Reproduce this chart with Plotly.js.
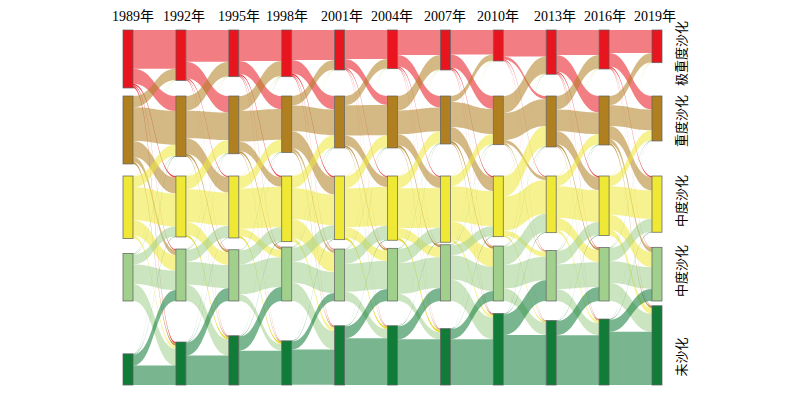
<!DOCTYPE html>
<html>
<head>
<meta charset="utf-8">
<script src="https://cdn.plot.ly/plotly-3.0.1.min.js"></script>
<style>
html,body{margin:0;padding:0;background:#ffffff;}
#chart{width:800px;height:395px;}
</style>
</head>
<body>
<div id="chart"></div>
<script>
// ---------------- data ----------------
const years = ['1989年','1992年','1995年','1998年','2001年','2004年','2007年','2010年','2013年','2016年','2019年'];
const categories = ['极重度沙化','重度沙化','中度沙化','中度沙化','未沙化'];

// transition matrices (relative area): rows = class in earlier year, columns = class in later year
// class order: 极重度, 重度, 中度, 轻度(labelled 中度), 未沙化
const flow_1989_1992 = [
  [38.7, 15.0,  1.5,  1.0,  1.8],
  [11.3, 33.7, 16.0,  5.0,  2.0],
  [ 0.3, 11.0, 33.0, 15.5,  2.7],
  [ 0.2,  0.7, 10.0, 19.5, 17.1],
  [ 0.0,  0.3,  0.5, 11.0, 19.4]
];
const flow_1992_1995 = [
  [31.7, 16.5,  1.0,  0.6,  0.7],
  [14.7, 27.5, 15.5,  2.0,  1.0],
  [ 0.2, 13.0, 33.2, 12.6,  2.0],
  [ 0.1,  0.5, 12.0, 23.1, 16.3],
  [ 0.0,  0.3,  0.3, 13.0, 29.3]
];
const flow_1995_1998 = [
  [31.0, 13.0,  1.3,  0.8,  0.6],
  [15.0, 30.7,  9.5,  1.8,  0.8],
  [ 0.4, 12.0, 40.4,  7.5,  1.7],
  [ 0.2,  0.5, 14.0, 29.9,  6.7],
  [ 0.1,  0.3,  0.5, 14.0, 34.4]
];
const flow_1998_2001 = [
  [30.0, 13.5,  1.5,  0.9,  0.8],
  [ 9.5, 25.8, 17.0,  3.0,  1.2],
  [ 0.3, 12.0, 30.7, 19.1,  3.6],
  [ 0.2,  0.5, 14.0, 21.0, 18.3],
  [ 0.0,  0.2,  0.5,  8.0, 35.3]
];
const flow_2001_2004 = [
  [29.0,  9.0,  1.0,  0.5,  0.5],
  [ 9.2, 30.3, 10.0,  1.7,  0.8],
  [ 0.3, 12.0, 38.9, 10.5,  2.0],
  [ 0.2,  0.5, 14.0, 28.0,  9.3],
  [ 0.0,  0.2,  0.4, 12.0, 46.7]
];
const flow_2004_2007 = [
  [25.0, 11.5,  1.0,  0.6,  0.6],
  [14.5, 23.9, 11.0,  1.8,  0.8],
  [ 0.3, 12.0, 39.9, 10.0,  2.1],
  [ 0.2,  0.4, 14.0, 30.9,  7.2],
  [ 0.0,  0.2,  0.4, 13.0, 45.7]
];
const flow_2007_2010 = [
  [24.5, 13.0,  1.2,  0.7,  0.6],
  [ 6.0, 25.1, 14.0,  2.0,  0.9],
  [ 0.3, 10.0, 35.1, 18.0,  2.9],
  [ 0.2,  0.4, 10.0, 24.3, 21.4],
  [ 0.0,  0.2,  0.4, 10.0, 45.8]
];
const flow_2010_2013 = [
  [26.5,  3.0,  0.7,  0.4,  0.4],
  [17.0, 27.0,  3.3,  0.9,  0.5],
  [ 0.4, 20.2, 34.1,  5.0,  1.0],
  [ 0.3,  0.5, 18.2, 23.4, 12.6],
  [ 0.1,  0.3,  0.4, 20.8, 50.0]
];
const flow_2013_2016 = [
  [25.0, 16.5,  1.3,  0.8,  0.7],
  [13.5, 21.9, 13.0,  1.8,  0.8],
  [ 0.3, 10.0, 31.8, 12.0,  2.6],
  [ 0.2,  0.4, 13.0, 24.9, 12.0],
  [ 0.0,  0.2,  0.4, 14.0, 49.9]
];
const flow_2016_2019 = [
  [23.0, 13.5,  1.2,  0.7,  0.6],
  [ 9.2, 20.9, 13.2,  4.0,  1.7],
  [ 0.3, 10.0, 28.4, 15.0,  5.8],
  [ 0.2,  0.4, 13.0, 22.0, 17.9],
  [ 0.0,  0.2,  0.5, 12.0, 53.3]
];
const transitions = [flow_1989_1992, flow_1992_1995, flow_1995_1998, flow_1998_2001, flow_2001_2004,
  flow_2004_2007, flow_2007_2010, flow_2010_2013, flow_2013_2016, flow_2016_2019];

// ---------------- styles / layout constants ----------------
const nodeColors = ['rgb(232,20,30)','rgb(176,128,32)','rgb(239,232,53)','rgb(160,208,140)','rgb(16,124,56)'];
const linkColors = ['rgba(232,20,30,0.55)','rgba(176,128,32,0.55)','rgba(239,232,53,0.55)','rgba(160,208,140,0.55)','rgba(16,124,56,0.56)'];
const thinLinkColors = ['rgba(232,20,30,0.8)','rgba(176,128,32,0.8)','rgba(225,215,30,0.9)','rgba(130,190,110,0.85)','rgba(16,124,56,0.75)'];
const THIN = 2.5;   // flows narrower than this are drawn as stronger hairlines, like the reference

const W = 800, H = 395;
const M = {l: 118, r: 133, t: 30, b: 10};
const PW = W - M.l - M.r, PH = H - M.t - M.b;
const PAD = 22, THICK = 10;
const colX0 = 10, colStep = 52.9;                 // node column centres, px inside the domain
// vertical anchoring of each class band inside the domain (px from top)
const anchors = [['top', 0], ['top', 66], ['top', 146], ['bottom', 271], ['bottom', 355]];
const yearLabelX = [133, 183.5, 238.5, 286.5, 341.5, 391.5, 445, 498, 555, 605, 655];
const yearLabelY = 16.5;
const classLabelX = 680;
const classLabelY = [54, 121, 201, 271, 357.5];

// ---------------- build sankey ----------------
const nT = years.length, nC = categories.length;
const rowSum = r => r.reduce((a, b) => a + b, 0);
const nodeValue = [];
const colTotals = [];
for (let t = 0; t < nT; t++) {
  let tot = 0;
  for (let c = 0; c < nC; c++) {
    let inflow = 0, outflow = 0;
    if (t > 0) for (let i = 0; i < nC; i++) inflow += transitions[t - 1][i][c];
    if (t < nT - 1) outflow = rowSum(transitions[t][c]);
    const v = Math.max(inflow, outflow);
    nodeValue.push(v);
    tot += v;
  }
  colTotals.push(tot);
}
const ky = (PH - (nC - 1) * PAD) / Math.max(...colTotals);

const nodeX = [], nodeY = [], nodeCol = [], nodeLab = [];
for (let t = 0; t < nT; t++) {
  for (let c = 0; c < nC; c++) {
    const h = nodeValue[t * nC + c] * ky;
    const a = anchors[c];
    const cy = a[0] === 'top' ? a[1] + h / 2 : a[1] - h / 2;
    nodeX.push((colX0 + colStep * t) / PW);
    nodeY.push(cy / PH);
    nodeCol.push(nodeColors[c]);
    nodeLab.push('');
  }
}

const src = [], tgt = [], val = [], lcol = [];
for (let t = 0; t < nT - 1; t++) {
  for (let i = 0; i < nC; i++) {
    for (let j = 0; j < nC; j++) {
      const v = transitions[t][i][j];
      if (v > 0) {
        src.push(t * nC + i);
        tgt.push((t + 1) * nC + j);
        val.push(v);
        lcol.push(v < THIN ? thinLinkColors[i] : linkColors[i]);
      }
    }
  }
}

const trace = {
  type: 'sankey',
  arrangement: 'fixed',
  orientation: 'h',
  domain: {x: [0, 1], y: [0, 1]},
  hoverinfo: 'none',
  textfont: {size: 1, color: 'rgba(0,0,0,0)'},
  node: {
    label: nodeLab,
    x: nodeX,
    y: nodeY,
    color: nodeCol,
    pad: PAD,
    thickness: THICK,
    line: {color: 'rgba(95,95,95,0.9)', width: 0.8},
    hoverinfo: 'none'
  },
  link: {
    source: src,
    target: tgt,
    value: val,
    color: lcol,
    line: {color: 'rgba(0,0,0,0)', width: 0.000001},
    hoverinfo: 'none'
  }
};

const pxX = px => (px - M.l) / PW;
const pxY = py => 1 - (py - M.t) / PH;

const annotations = [];
years.forEach((y, t) => {
  annotations.push({
    text: y, xref: 'paper', yref: 'paper',
    x: pxX(yearLabelX[t]), y: pxY(yearLabelY),
    xanchor: 'center', yanchor: 'middle', showarrow: false,
    font: {family: '"Liberation Serif", "Noto Sans CJK SC", serif', size: 14, color: '#000'}
  });
});
categories.forEach((c, k) => {
  annotations.push({
    text: c, xref: 'paper', yref: 'paper',
    x: pxX(classLabelX), y: pxY(classLabelY[k]),
    xanchor: 'center', yanchor: 'middle', showarrow: false, textangle: -90,
    font: {family: '"Noto Sans CJK SC", serif', size: 13, color: '#000'}
  });
});

const layout = {
  width: W, height: H,
  margin: M,
  paper_bgcolor: '#ffffff',
  plot_bgcolor: '#ffffff',
  showlegend: false,
  annotations: annotations
};

Plotly.newPlot('chart', [trace], layout, {displayModeBar: false, staticPlot: true});
</script>
</body>
</html>
